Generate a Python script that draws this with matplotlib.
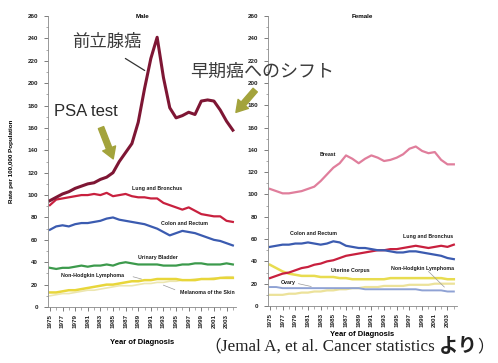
import numpy as np
import matplotlib
matplotlib.use("Agg")
import matplotlib.pyplot as plt
from matplotlib.ticker import MultipleLocator

plt.rcParams["font.family"] = ["Liberation Sans", "Noto Sans CJK JP", "DejaVu Sans"]

# --- SEER incidence, rate per 100,000 (1975-2004) ---
years = list(range(1975, 2005))

male_prostate = [95, 98, 101, 103, 106, 108, 110, 111, 114, 116,
                 120, 130, 138, 146, 165, 195, 222, 241, 205, 178,
                 169, 171, 174, 172, 184, 185, 184, 176, 166, 158]
male_lung = [91, 96, 97, 98, 99, 100, 100, 101, 100, 102,
             99, 100, 101, 99, 98, 98, 97, 97, 93, 91,
             89, 87, 89, 86, 83, 82, 81, 81, 77, 76]
male_colon = [69, 72, 73, 72, 74, 75, 75, 76, 77, 79,
              80, 78, 77, 76, 75, 74, 72, 70, 67, 64,
              66, 68, 67, 66, 64, 62, 60, 59, 57, 55]
male_bladder = [35, 34, 35, 35, 36, 37, 36, 37, 37, 38,
                37, 39, 40, 39, 38, 38, 38, 38, 37, 37,
                37, 38, 38, 39, 39, 38, 38, 38, 39, 38]
male_nhl = [13, 13, 14, 15, 15, 16, 17, 18, 19, 20,
            20, 21, 22, 23, 23, 24, 24, 25, 25, 25,
            25, 24, 24, 24, 25, 25, 25, 26, 26, 26]
male_melanoma = [10, 11, 12, 12, 13, 14, 15, 15, 16, 17,
                 18, 19, 19, 19, 20, 21, 21, 22, 22, 23,
                 23, 24, 24, 25, 25, 25, 26, 26, 27, 27]

female_breast = [105, 103, 101, 101, 102, 103, 105, 107, 112, 118,
                 124, 128, 135, 132, 128, 132, 135, 133, 130, 131,
                 133, 136, 141, 143, 139, 137, 138, 131, 127, 127]
female_colon = [53, 54, 55, 55, 56, 56, 57, 56, 55, 56,
                58, 57, 54, 53, 52, 52, 51, 50, 50, 49,
                48, 48, 49, 49, 48, 47, 46, 45, 43, 42]
female_lung = [25, 27, 29, 30, 32, 34, 35, 37, 38, 40,
               41, 43, 45, 46, 47, 48, 49, 50, 50, 51,
               51, 52, 53, 54, 53, 52, 53, 54, 53, 55]
female_uterine = [37, 34, 31, 29, 28, 27, 27, 27, 26, 26,
                  26, 25, 25, 24, 24, 24, 24, 24, 24, 25,
                  25, 25, 25, 25, 25, 25, 25, 25, 24, 24]
female_ovary = [17, 17, 16, 16, 16, 16, 16, 16, 16, 16,
                16, 16, 16, 16, 16, 15, 15, 15, 15, 15,
                15, 15, 15, 15, 14, 14, 14, 14, 13, 13]
female_nhl = [10, 10, 10, 11, 11, 12, 12, 13, 13, 14,
              14, 15, 15, 16, 16, 17, 17, 17, 18, 18,
              18, 18, 19, 19, 19, 19, 20, 20, 20, 20]

W, H = 498, 363


def px_to_fig(x, y):
    return x / W, 1 - y / H


def setup_axes(ax, title, xlabel_pad):
    ax.set_xlim(1974.7, 2004.5)
    ax.set_ylim(0, 260)
    ax.yaxis.set_major_locator(MultipleLocator(20))
    ax.yaxis.set_minor_locator(MultipleLocator(10))
    ax.set_xticks(range(1975, 2004, 2))
    ax.xaxis.set_minor_locator(MultipleLocator(1))
    ax.tick_params(axis="both", which="major", labelsize=4.5, length=3, width=0.6,
                   colors="#666666", labelcolor="#222222")
    ax.tick_params(axis="y", which="major", pad=4)
    ax.tick_params(axis="x", which="major", pad=2)
    ax.tick_params(axis="both", which="minor", length=1.8, width=0.5, colors="#888888")
    for lab in ax.get_xticklabels():
        lab.set_rotation(90)
        lab.set_fontweight("bold")
    for lab in ax.get_yticklabels():
        lab.set_fontweight("bold")
    for side in ["top", "right"]:
        ax.spines[side].set_visible(False)
    for side in ["left", "bottom"]:
        ax.spines[side].set_color("#888888")
        ax.spines[side].set_linewidth(0.6)
    ax.text(0.5, 1.0, title, transform=ax.transAxes, ha="center", va="center",
            fontsize=4.5, fontweight="bold")
    ax.set_xlabel("Year of Diagnosis", fontsize=5.5, fontweight="bold", labelpad=xlabel_pad)


def line_label(ax, x, y, s):
    ax.text(x, y, s, fontsize=3.8, fontweight="bold", ha="center", va="center",
            color="#1a1a1a")


fig = plt.figure(figsize=(W / 100, H / 100), dpi=100)
ax_m = fig.add_axes([48 / W, 56 / H, 188 / W, 291 / H])
ax_f = fig.add_axes([268 / W, 57 / H, 189 / W, 290 / H])

# 男性
ax_m.plot(years, male_melanoma, color="#ece6b0", lw=1.2)
ax_m.plot(years, male_nhl, color="#e8d63a", lw=1.8)
ax_m.plot(years, male_bladder, color="#3c9a4c", lw=1.6)
ax_m.plot(years, male_colon, color="#3b5bb0", lw=1.6)
ax_m.plot(years, male_lung, color="#c8203e", lw=1.6)
ax_m.plot(years, male_prostate, color="#7e1634", lw=2.2)
setup_axes(ax_m, "Male", 8)
ax_m.set_ylabel("Rate per 100,000 Population", fontsize=4.5, fontweight="bold", labelpad=10)
line_label(ax_m, 1992.0, 106, "Lung and Bronchus")
line_label(ax_m, 1996.4, 75, "Colon and Rectum")
line_label(ax_m, 1992.1, 44.6, "Urinary Bladder")
line_label(ax_m, 1981.7, 27.7, "Non-Hodgkin Lymphoma")
line_label(ax_m, 1999.9, 13.4, "Melanoma of the Skin")
ax_m.plot([1988.2, 1989.5], [27.0, 25.0], color="#999999", lw=0.5)
ax_m.plot([1993.0, 1994.8], [19.5, 15.5], color="#999999", lw=0.5)

# 女性
ax_f.plot(years, female_nhl, color="#ece29a", lw=1.6)
ax_f.plot(years, female_ovary, color="#8fa2d4", lw=1.4)
ax_f.plot(years, female_uterine, color="#e8dc50", lw=1.8)
ax_f.plot(years, female_lung, color="#c8203e", lw=1.6)
ax_f.plot(years, female_colon, color="#3b5bb0", lw=1.6)
ax_f.plot(years, female_breast, color="#e07e9c", lw=1.6)
setup_axes(ax_f, "Female", 3)
line_label(ax_f, 1984.2, 135.7, "Breast")
line_label(ax_f, 1981.8, 65, "Colon and Rectum")
line_label(ax_f, 1999.9, 62.5, "Lung and Bronchus")
line_label(ax_f, 1987.7, 32, "Uterine Corpus")
line_label(ax_f, 1999.1, 34, "Non-Hodgkin Lymphoma")
line_label(ax_f, 1977.9, 21.4, "Ovary")
ax_f.plot([1979.5, 1981.5], [20.0, 17.5], color="#999999", lw=0.5)
ax_f.plot([2000.0, 2002.5], [31.0, 17.0], color="#999999", lw=0.5)

# 注釈
jp = ["Noto Sans CJK JP", "DejaVu Sans"]
fig.text(*px_to_fig(107, 42), "前立腺癌", family=jp, fontsize=12.5,
         color="#3a3a3a", ha="center", va="center")
fig.text(*px_to_fig(262, 72), "早期癌へのシフト", family=jp, fontsize=13,
         color="#3a3a3a", ha="center", va="center")
fig.text(*px_to_fig(86, 112), "PSA test", fontsize=12, color="#2a2a2a",
         ha="center", va="center")

ax_m.annotate("", xy=(1990.4, 210), xytext=(123, H - 57), textcoords="figure pixels",
              arrowprops=dict(arrowstyle="-", color="#333333", lw=0.9))
arrow_kw = dict(arrowstyle="simple,head_width=1.1,head_length=0.9,tail_width=0.45",
                color="#a3a33c", mutation_scale=9)
ax_m.annotate("", xy=(1985.2, 130), xytext=(100, H - 125), textcoords="figure pixels",
              arrowprops=arrow_kw)
ax_m.annotate("", xy=(2004.2, 172), xytext=(257, H - 88), textcoords="figure pixels",
              arrowprops=arrow_kw)

# 出典
renderer = fig.canvas.get_renderer()
parts = [("（", jp, 12, "normal"),
         ("Jemal A, et al. Cancer statistics ", ["Liberation Serif"], 12.3, "normal"),
         ("より", jp, 14, "bold"),
         ("）", jp, 12, "normal")]
x0 = 204
for s, fam, size, weight in parts:
    t = fig.text(x0 / W, 1 - 347 / H, s, family=fam, fontsize=size, fontweight=weight,
                 color="#222222", ha="left", va="center")
    x0 += t.get_window_extent(renderer).width

fig.savefig("out.png", dpi=100)
